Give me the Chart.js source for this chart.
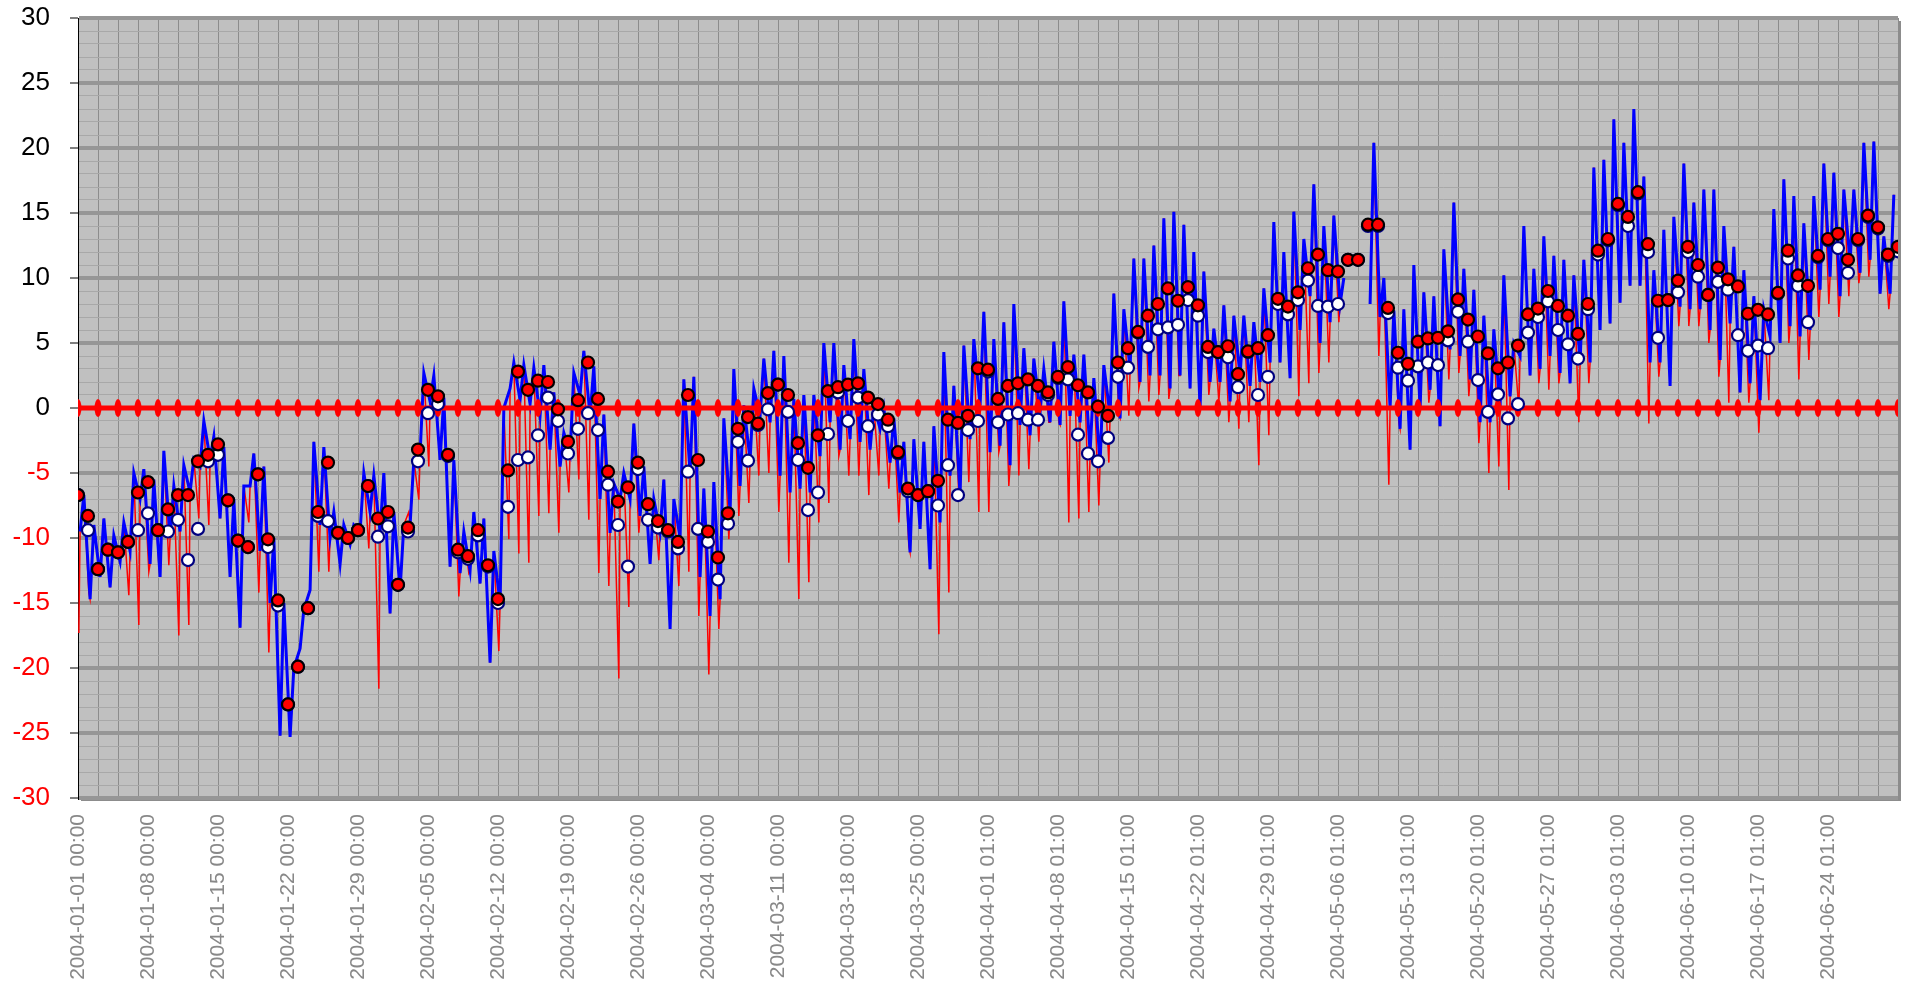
<!DOCTYPE html>
<html>
<head>
<meta charset="utf-8">
<script src="https://cdn.jsdelivr.net/npm/chart.js@4/dist/chart.umd.min.js"></script>
<style>
  html, body { margin: 0; padding: 0; background: #ffffff; }
  #wrap { width: 1912px; height: 984px; }
</style>
</head>
<body>
<div id="wrap"><canvas id="chart" width="1912" height="984"></canvas></div>
<script>
// x labels, one every 168 hours (weekly)
const tickLabels = [
  '2004-01-01 00:00', '2004-01-08 00:00', '2004-01-15 00:00', '2004-01-22 00:00',
  '2004-01-29 00:00', '2004-02-05 00:00', '2004-02-12 00:00', '2004-02-19 00:00',
  '2004-02-26 00:00', '2004-03-04 00:00', '2004-03-11 00:00', '2004-03-18 00:00',
  '2004-03-25 00:00', '2004-04-01 01:00', '2004-04-08 01:00', '2004-04-15 01:00',
  '2004-04-22 01:00', '2004-04-29 01:00', '2004-05-06 01:00', '2004-05-13 01:00',
  '2004-05-20 01:00', '2004-05-27 01:00', '2004-06-03 01:00', '2004-06-10 01:00',
  '2004-06-17 01:00', '2004-06-24 01:00'
];

// daily values (one per day, day 0 = 2004-01-01)
const redDaily = [
  -6.7, -8.3, -12.4, -10.9, -11.1, -10.3, -6.5, -5.7, -9.4, -7.8,
  -6.7, -6.7, -4.1, -3.6, -2.8, -7.1, -10.2, -10.7, -5.1, -10.1,
  -14.8, -22.8, -19.9, -15.4, -8.0, -4.2, -9.6, -10.0, -9.4, -6.0,
  -8.5, -8.0, -13.6, -9.2, -3.2, 1.4, 0.9, -3.6, -10.9, -11.4,
  -9.4, -12.1, -14.7, -4.8, 2.8, 1.4, 2.1, 2.0, -0.1, -2.6,
  0.6, 3.5, 0.7, -4.9, -7.2, -6.1, -4.2, -7.4, -8.7, -9.4,
  -10.3, 1.0, -4.0, -9.5, -11.5, -8.1, -1.6, -0.7, -1.2, 1.15,
  1.8, 1.0, -2.7, -4.6, -2.1, 1.3, 1.6, 1.8, 1.9, 0.8,
  0.3, -0.9, -3.4, -6.2, -6.7, -6.4, -5.6, -0.9, -1.15, -0.6,
  3.05, 2.95, 0.7, 1.7, 1.9, 2.2, 1.7, 1.2, 2.4, 3.15,
  1.75, 1.2, 0.1, -0.6, 3.5, 4.6, 5.85, 7.1, 8.0, 9.2,
  8.25, 9.3, 7.9, 4.7, 4.3, 4.75, 2.6, 4.35, 4.6, 5.6,
  8.4, 7.8, 8.9, 10.75, 11.8, 10.6, 10.5, 11.4, 11.4, 14.1,
  14.1, 7.7, 4.25, 3.4, 5.1, 5.35, 5.4, 5.9, 8.35, 6.8,
  5.5, 4.2, 3.05, 3.5, 4.8, 7.2, 7.65, 9.0, 7.85, 7.1,
  5.7, 8.0, 12.1, 13.0, 15.7, 14.7, 16.6, 12.6, 8.25, 8.3,
  9.8, 12.4, 11.0, 8.7, 10.8, 9.9, 9.35, 7.25, 7.55, 7.2,
  8.85, 12.1, 10.2, 9.4, 11.7, 13.0, 13.4, 11.4, 13.0, 14.8,
  13.9, 11.8, 12.4
];

const whiteDaily = [
  -6.7, -9.4, -12.4, -10.9, -11.1, -10.3, -9.4, -8.1, -9.4, -9.5,
  -8.6, -11.7, -9.3, -4.1, -3.6, -7.1, -10.2, -10.7, -5.1, -10.7,
  -15.2, -22.8, -19.9, -15.4, -8.3, -8.7, -9.6, -10.0, -9.4, -6.0,
  -9.9, -9.1, -13.6, -9.5, -4.1, -0.4, 0.3, -3.7, -11.1, -11.6,
  -9.8, -12.2, -15.0, -7.6, -4.0, -3.8, -2.1, 0.8, -1.0, -3.5,
  -1.6, -0.4, -1.7, -5.9, -9.0, -12.2, -4.7, -8.6, -9.2, -9.5,
  -10.8, -4.9, -9.3, -10.3, -13.2, -8.9, -2.6, -4.05, -1.3, -0.1,
  1.8, -0.3, -4.0, -7.85, -6.5, -2.0, 1.2, -1.0, 0.8, -1.4,
  -0.5, -1.4, -3.5, -6.4, -6.7, -6.4, -7.5, -4.4, -6.7, -1.7,
  -1.0, 2.8, -1.1, -0.5, -0.4, -0.9, -0.9, 1.0, 2.3, 2.2,
  -2.05, -3.5, -4.1, -2.3, 2.4, 3.1, 5.8, 4.7, 6.05, 6.2,
  6.4, 8.3, 7.1, 4.3, 4.3, 3.9, 1.6, 4.3, 1.0, 2.4,
  8.0, 7.2, 8.3, 9.8, 7.85, 7.8, 8.0, 11.4, 11.4, 14.0,
  14.0, 7.3, 3.1, 2.1, 3.2, 3.5, 3.3, 5.2, 7.4, 5.1,
  2.15, -0.3, 1.05, -0.8, 0.3, 5.8, 7.0, 8.2, 6.0, 4.9,
  3.8, 7.6, 11.8, 12.9, 15.6, 14.0, 16.5, 12.0, 5.4, 8.3,
  8.9, 12.0, 10.1, 8.7, 9.7, 9.1, 5.6, 4.4, 4.8, 4.6,
  8.8, 11.5, 9.4, 6.6, 11.6, 12.9, 12.3, 10.4, 12.9, 14.7,
  13.8, 11.7, 12.05
];

// hourly blue trace, read as a daily low (early morning) and daily high (afternoon)
const blueLow = [
  -9.5, -14.7, -13, -13.8, -11.8, -11, -7, -12, -13, -10,
  -9.5, -6.5, -4.5, -3.9, -8.5, -13, -16.9, -6, -11, -15,
  -25.2, -25.3, -18.5, -14, -9, -10, -12, -10.5, -9.5, -8,
  -9.5, -15.8, -14, -9, -3.5, 0.5, -4, -12.2, -12.7, -12.5,
  -13.5, -19.6, -15, 1.5, 0.6, 0.3, -0.6, -3.2, -4.5, -3.5,
  1, -0.6, -7, -9.6, -7, -7, -8.3, -12, -9.5, -17,
  -10, -5, -13, -16, -14.7, -8, -6, -4, -0.6, -1.1,
  -5.2, -6.5, -6.2, -6.5, -3.7, -1.1, -3.2, -2.4, -2.6, -3.2,
  -1.6, -4.2, -6.5, -11.1, -9.3, -12.4, -8.8, -5.2, -6.7, -2.4,
  0.2, -3.4, -2.9, -4.4, -1.3, -2.1, -0.3, -1.1, -1.3, -0.6,
  -1.1, -3.4, -4.2, -0.6, -0.8, 3.0, 2.0, 2.5, 2.5, 1.5,
  2.5, 1.5, 0, 2.0, 2.0, 0.5, 2.5, 1.7, 2.0, 3.5,
  3.5, 2.3, 6, 8.6, 5, 6.6, 8, null, null, 8,
  7, 0, -1.6, -3.2, -0.1, 1.4, -1.4, 4.5, 4, 2.2,
  -1.1, -1.1, 0.15, 0.9, 4, 2.5, 3, 4, 2.7, 1.9,
  3.5, 3.5, 6, 6.5, 8.1, 9.4, 9.4, 3.5, 3.5, 1.7,
  7.8, 7.6, 7.6, 6.0, 3.7, 6.5, 1.2, 1.9, 0.6, 5.5,
  5, 6.3, 5.5, 6.0, 9.1, 10.1, 8.6, 11.2, 10.4, 11.4,
  8.8, 8.8
];

const blueHigh = [
  -6.7, -9, -8.5, -9.8, -8.8, -5, -4.7, -5.5, -3.3, -6,
  -4.4, -3.9, -1.0, -2.2, -3, -7, -6, -3.5, -4.5, -10,
  -15, -20, -15.5, -2.6, -3, -8, -9, -9, -5, -5.2,
  -5, -8, -9, -4, 2.7, 2.5, 0.8, -4, -9.5, -8,
  -8.5, -11, 0, 3.5, 3.3, 3.1, 3.3, 1.2, -1.9, 2.7,
  4.4, 3.2, -0.5, -5.8, -5, -1.2, -4.5, -7, -5.5, -7,
  2.2, 2.4, -6.2, -5.7, -0.8, 3, 0.2, 1.5, 3.8, 4.4,
  4.0, 0.7, 1.0, 1.0, 5.0, 5.0, 3.3, 5.3, 3.0, 0.2,
  0, -0.8, -2.6, -2.4, -2.6, -1.4, 4.3, 1.7, 4.8, 5.3,
  7.4, 5.3, 6.6, 8.0, 4.6, 3.8, 3.0, 5.1, 8.2, 4.1,
  4.1, 2.3, 3.3, 8.8, 7.6, 11.5, 11.5, 12.5, 14.6, 15.1,
  14.1, 12.0, 10.5, 6.1, 7.9, 7.1, 7.1, 6.6, 9.2, 14.3,
  12.0, 15.1, 13, 17.2, 14, 14.8, 10, null, null, 20.4,
  10, 7.5, 7.6, 11, 8.9, 8.6, 12.2, 15.8, 10.7, 9.1,
  7.1, 6.05, 10.2, 5.0, 14.0, 10.7, 13.2, 11.7, 11.4, 10.2,
  11.4, 18.5, 19.1, 22.2, 20.4, 23, 17.8, 10.6, 13.7, 14.7,
  18.8, 15.8, 16.8, 16.8, 14, 12.4, 10.6, 8.6, 7.6, 15.3,
  17.6, 16.3, 14.2, 16.3, 18.8, 18.1, 16.8, 16.8, 20.4, 20.5,
  13.2, 16.4
];

// hourly red trace: deepest night-time dip per day (null where it stays under the blue line)
const redDips = [
  -17.3, -14.2, null, null, null, -14.4, -16.7, -12.6, -12.1, -12.1,
  -17.5, -16.7, -8.5, -9, null, null, null, -8.8, -14.2, -18.8,
  null, null, null, null, -12.6, -12.6, -10.8, null, null, -10.8,
  -21.6, null, null, -8, -7.05, -4.5, null, null, -14.5, -12.7,
  null, null, -18.7, -10.1, -11.2, -11.9, -8.3, -8.1, -9.6, -6.5,
  -5.5, -8.6, -12.7, -13.7, -20.8, -15.3, -9.6, null, -11.7, null,
  -13.7, -12.6, -16, -20.5, -17, -10.1, -8.3, -7.3, -5.2, -5,
  -8, -11.9, -14.7, -13.4, -8.8, -7.3, -3.7, -5.2, -5.2, -6.7,
  -5.2, -6.2, -8.8, -10.6, null, null, -17.4, -14.2, -6.7, -5.7,
  -8, -8, -3.4, -6, -5.2, -4.7, -2.6, -1.1, -1.1, -8.8,
  -8.5, -8, -7.5, -4.2, -0.6, -0.6, 1.5, 0.5, 1.0, 0.7,
  2.5, null, null, 1.0, 0.5, -1.1, -1.6, -1.1, -4.4, -2.1,
  null, null, 0.9, 1.9, 2.7, 3.5, 6.6, null, null, null,
  4.0, -5.9, -1.1, null, null, 0.4, null, 2.2, 2.7, 0.9,
  -2.7, -5.0, -4.5, -6.3, -0.1, null, 1.9, 1.4, 1.9, null,
  -1.1, 1.9, null, null, null, null, null, -1.2, 2.4, null,
  6.3, 6.3, 6.3, 5, 2.4, 0.4, null, 0.4, -1.9, 0.6,
  null, 5, 2.2, 3.7, 7, 8, 7, 8.6, 9.6, 10.1,
  null, 7.6
];

// reference line at 0 with a marker every 48 hours
const zeroLine = [
  0, 0, 0, 0, 0, 0, 0, 0, 0, 0, 0, 0, 0, 0, 0, 0, 0, 0, 0, 0, 0, 0, 0,
  0, 0, 0, 0, 0, 0, 0, 0, 0, 0, 0, 0, 0, 0, 0, 0, 0, 0, 0, 0, 0, 0, 0,
  0, 0, 0, 0, 0, 0, 0, 0, 0, 0, 0, 0, 0, 0, 0, 0, 0, 0, 0, 0, 0, 0, 0,
  0, 0, 0, 0, 0, 0, 0, 0, 0, 0, 0, 0, 0, 0, 0, 0, 0, 0, 0, 0, 0, 0, 0
];

const HOURS = 4368;     // 182 days
const GRID_STEP = 48;   // vertical grid every 2 days
const LABEL_STEP = 168; // label every week
const DIP_HOUR = 2, LOW_HOUR = 5, HIGH_HOUR = 14;

// build point lists from the arrays above
const redDots = redDaily.map((v, d) => ({ x: d * 24, y: v }));
const whiteDots = whiteDaily.map((v, d) => ({ x: d * 24, y: v }));
const zeroPts = zeroLine.map((v, i) => ({ x: i * GRID_STEP, y: v }));

const bluePts = [];
const redPts = [];
blueLow.forEach((lo, d) => {
    const hi = blueHigh[d];
    if (redDips[d] !== null) redPts.push({ x: d * 24 + DIP_HOUR, y: redDips[d] });
    bluePts.push({ x: d * 24 + LOW_HOUR, y: lo });
    bluePts.push({ x: d * 24 + HIGH_HOUR, y: hi });
    redPts.push({ x: d * 24 + LOW_HOUR, y: lo });
    redPts.push({ x: d * 24 + HIGH_HOUR, y: hi });
});

// tall oval marker for the zero line
const oval = document.createElement('canvas');
oval.width = 8;
oval.height = 18;
const octx = oval.getContext('2d');
octx.fillStyle = '#ff0000';
octx.beginPath();
octx.ellipse(4, 9, 3.5, 9, 0, 0, Math.PI * 2);
octx.fill();

const gridTicks = [];
for (let h = 0; h <= HOURS; h += GRID_STEP) gridTicks.push(h);
const labelTicks = tickLabels.map((_, i) => i * LABEL_STEP);
const yTicks = [];
for (let v = -30; v <= 30; v++) yTicks.push(v);

const plotBackground = {
    id: 'plotBackground',
    beforeDraw(chart) {
        const { ctx, chartArea: a } = chart;
        ctx.save();
        ctx.fillStyle = '#8c8c8c';
        ctx.fillRect(a.left + 3, a.top + 3, a.right - a.left, a.bottom - a.top);
        ctx.fillStyle = '#c0c0c0';
        ctx.fillRect(a.left, a.top, a.right - a.left, a.bottom - a.top);
        ctx.restore();
    }
};

const ctx = document.getElementById('chart');

new Chart(ctx, {
    type: 'line',
    data: {
        datasets: [
            {
                label: 'daily red',
                data: redDots,
                showLine: false,
                pointRadius: 6,
                pointBorderWidth: 2.2,
                pointBackgroundColor: '#ff0000',
                pointBorderColor: '#000000',
            },
            {
                label: 'daily white',
                data: whiteDots,
                showLine: false,
                pointRadius: 6,
                pointBorderWidth: 2.2,
                pointBackgroundColor: '#ffffff',
                pointBorderColor: '#000080',
            },
            {
                label: 'zero',
                data: zeroPts,
                borderColor: '#ff0000',
                borderWidth: 5,
                pointStyle: oval,
                pointRadius: 9,
            },
            {
                label: 'blue',
                data: bluePts,
                borderColor: '#0000ff',
                borderWidth: 3,
                pointRadius: 0,
                spanGaps: false,
            },
            {
                label: 'red',
                data: redPts,
                borderColor: '#ff0000',
                borderWidth: 1.5,
                pointRadius: 0,
                spanGaps: false,
            },
        ]
    },
    options: {
        responsive: false,
        animation: false,
        events: [],
        layout: { padding: { top: 18, right: 9, left: 0, bottom: 0 } },
        plugins: {
            legend: { display: false },
            tooltip: { enabled: false },
        },
        scales: {
            x: {
                type: 'linear',
                position: 'bottom',
                min: 0,
                max: HOURS,
                afterBuildTicks: s => { s.ticks = labelTicks.map(v => ({ value: v })); },
                afterFit: s => { s.height = 186; s.paddingLeft = 0; s.paddingRight = 0; },
                border: { display: false },
                grid: { display: false, drawTicks: false },
                ticks: {
                    autoSkip: false,
                    maxRotation: 90,
                    minRotation: 90,
                    padding: 16,
                    color: '#888888',
                    font: { family: 'Liberation Sans', size: 21 },
                    callback: v => tickLabels[Math.round(v / LABEL_STEP)] || '',
                },
            },
            xGrid: {
                type: 'linear',
                position: 'bottom',
                min: 0,
                max: HOURS,
                afterBuildTicks: s => { s.ticks = gridTicks.map(v => ({ value: v })); },
                afterFit: s => { s.height = 0; s.paddingLeft = 0; s.paddingRight = 0; },
                border: { display: false },
                grid: { color: '#8c8c8c', lineWidth: 1, drawTicks: false },
                ticks: { display: false, autoSkip: false },
            },
            y: {
                min: -30,
                max: 30,
                afterBuildTicks: s => { s.ticks = yTicks.map(v => ({ value: v })); },
                afterFit: s => { s.width = 78; s.paddingTop = 0; s.paddingBottom = 0; },
                border: { display: true, color: '#000000', width: 1 },
                grid: {
                    color: c => c.tick.value % 5 === 0 ? '#969696' : '#a8a8a8',
                    lineWidth: c => c.tick.value % 5 === 0 ? 4 : 1,
                    tickColor: c => c.tick.value % 5 === 0 ? '#000000' : 'rgba(0,0,0,0)',
                    tickLength: 8,
                    tickWidth: 1,
                },
                ticks: {
                    autoSkip: false,
                    padding: 20,
                    font: { family: 'Liberation Sans', size: 26 },
                    color: c => c.tick.value < 0 ? '#ff0000' : '#000000',
                    callback: v => v % 5 === 0 ? String(v) : '',
                },
            }
        }
    },
    plugins: [plotBackground]
});
</script>
</body>
</html>
